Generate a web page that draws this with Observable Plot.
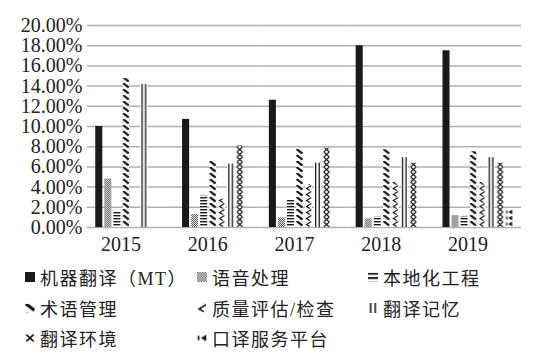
<!DOCTYPE html>
<html>
<head>
<meta charset="utf-8">
<script src="https://cdn.jsdelivr.net/npm/d3@7"></script>
<script src="https://cdn.jsdelivr.net/npm/@observablehq/plot@0.6"></script>
<style>
  html, body { margin: 0; padding: 0; background: #fff; }
  #wrap { width: 537px; height: 359px; position: relative; overflow: hidden; }
  #legend {
    display: grid;
    grid-template-columns: 172px 171px auto;
    grid-auto-rows: 30.5px;
    padding-left: 25px;
    padding-top: 7px;
    font-family: "Liberation Serif", "Noto Sans CJK SC", serif;
    font-size: 18px;
    letter-spacing: 1.5px;
    color: #222;
  }
  .item { display: flex; align-items: center; white-space: nowrap; }
  .item svg { margin-right: 5px; flex: none; }
</style>
</head>
<body>
<div id="wrap"><div id="chart"></div><div id="legend"></div></div>
<script>
const years = ["2015", "2016", "2017", "2018", "2019"];
const series = ["机器翻译（MT）", "语音处理", "本地化工程", "术语管理", "质量评估/检查", "翻译记忆", "翻译环境", "口译服务平台"];
const mtValues = [10.0, 10.7, 12.6, 18.0, 17.5];
const speechValues = [4.8, 1.28, 0.95, 0.86, 1.18];
const localizationValues = [1.5, 3.15, 2.73, 1.05, 1.1];
const terminologyValues = [14.75, 6.6, 7.8, 7.7, 7.5];
const qualityValues = [0, 2.8, 4.24, 4.46, 4.46];
const tmValues = [14.16, 6.28, 6.37, 6.92, 6.92];
const environmentValues = [0, 8.08, 7.85, 6.37, 6.37];
const interpretingValues = [0, 0, 0, 0, 1.75];
const yTicks = [0, 2, 4, 6, 8, 10, 12, 14, 16, 18, 20];

const seriesValues = [mtValues, speechValues, localizationValues, terminologyValues, qualityValues, tmValues, environmentValues, interpretingValues];
const data = years.flatMap((y, i) => series.map((s, j) => ({year: y, series: s, value: seriesValues[j][i]})));

const ink = "#1a1a1a";
const patterns = `
<pattern id="p1" patternUnits="userSpaceOnUse" width="2" height="2"><rect width="2" height="2" fill="#fff"/><rect width="1" height="1" fill="#444"/><rect x="1" y="1" width="1" height="1" fill="#444"/></pattern>
<pattern id="p2" patternUnits="userSpaceOnUse" width="7" height="3"><rect width="7" height="3" fill="#fff"/><rect width="7" height="1.4" fill="${ink}"/></pattern>
<pattern id="p3" patternUnits="userSpaceOnUse" width="7" height="6"><rect width="7" height="6" fill="#fff"/><path d="M0.5,0 L6.5,4.6" stroke="${ink}" stroke-width="2.3" fill="none"/></pattern>
<pattern id="p4" patternUnits="userSpaceOnUse" width="7" height="6"><rect width="7" height="6" fill="#fff"/><path d="M6.3,0.6 L1.5,3.6 L4.8,5.6" stroke="${ink}" stroke-width="1.2" fill="none"/></pattern>
<pattern id="p5" patternUnits="userSpaceOnUse" width="7" height="4"><rect width="7" height="4" fill="#fff"/><rect x="1" width="1.3" height="4" fill="${ink}"/><rect x="4.6" width="1.3" height="4" fill="${ink}"/></pattern>
<pattern id="p6" patternUnits="userSpaceOnUse" width="7" height="5"><rect width="7" height="5" fill="#fff"/><path d="M0.8,0 L6.2,5 M6.2,0 L0.8,5" stroke="${ink}" stroke-width="1.2" fill="none"/></pattern>
<pattern id="p7" patternUnits="userSpaceOnUse" width="7" height="6"><rect width="7" height="6" fill="#fff"/><rect x="0.5" y="1.5" width="1.2" height="3" fill="${ink}"/><path d="M6.5,0.6 L2.6,3 L6.5,5.4 Z" fill="${ink}"/></pattern>
`;
const fills = [ink, "url(#p1)", "url(#p2)", "url(#p3)", "url(#p4)", "url(#p5)", "url(#p6)", "url(#p7)"];
const swatchTileHeights = [8, 8, 6, 6, 6, 8, 5, 6];

const W = 537, mL = 87, mR = 16;
const pIn = 0.18, pOut = 0.09;
const step = (W - mL - mR) / (years.length - pIn + 2 * pOut);
const gap = step * pIn / 2;

const svg = Plot.plot({
  width: W,
  height: 255,
  marginLeft: mL,
  marginRight: mR,
  marginTop: 25,
  marginBottom: 28,
  style: {fontFamily: "'Liberation Serif', serif", fontSize: "20px", color: "#222", background: "#fff"},
  fx: {domain: years, paddingInner: pIn, paddingOuter: pOut, round: false, label: null},
  x: {domain: series, paddingInner: 0.22, paddingOuter: 0.05, round: false, axis: null},
  y: {domain: [0, 20]},
  color: {type: "ordinal", domain: series, range: fills},
  marks: [
    Plot.ruleY(yTicks, {stroke: "#b0b0b0", strokeWidth: 1.5, insetLeft: -gap, insetRight: -gap}),
    Plot.axisY(yTicks, {tickFormat: d => d.toFixed(2) + "%", tickSize: 0, tickPadding: 0, dx: -(gap + 5), label: null, fill: "#222"}),
    Plot.barY(data, {fx: "year", x: "series", y: "value", fill: "series"}),
    Plot.axisFx({anchor: "bottom", tickSize: 0, tickPadding: 9, dx: -10, label: null, fill: "#222"})
  ]
});

const ns = "http://www.w3.org/2000/svg";
const defs = document.createElementNS(ns, "defs");
defs.innerHTML = patterns;
svg.insertBefore(defs, svg.firstChild);

let k = 0;
svg.querySelectorAll("rect").forEach(r => {
  const f = r.getAttribute("fill");
  if (f && f.startsWith("url(#p")) {
    const id = f.slice(5, -1);
    const base = defs.querySelector("#" + id);
    const c = base.cloneNode(true);
    const nid = id + "_" + (k++);
    c.setAttribute("id", nid);
    const x = +r.getAttribute("x") || 0;
    const y = (+r.getAttribute("y") || 0) + (+r.getAttribute("height") || 0);
    c.setAttribute("x", x);
    c.setAttribute("y", y);
    defs.appendChild(c);
    r.setAttribute("fill", `url(#${nid})`);
  }
});

document.getElementById("chart").appendChild(svg);

const legend = document.getElementById("legend");
series.forEach((s, i) => {
  const item = document.createElement("div");
  item.className = "item";
  const sw = document.createElementNS(ns, "svg");
  const tw = i < 2 ? 8 : 7, th = swatchTileHeights[i];
  sw.setAttribute("width", 10);
  sw.setAttribute("height", 10);
  sw.setAttribute("viewBox", `0 0 ${tw} ${th}`);
  const rect = document.createElementNS(ns, "rect");
  rect.setAttribute("width", tw);
  rect.setAttribute("height", th);
  rect.setAttribute("fill", fills[i]);
  sw.appendChild(rect);
  item.appendChild(sw);
  const t = document.createElement("span");
  t.textContent = s;
  item.appendChild(t);
  legend.appendChild(item);
});
</script>
</body>
</html>
